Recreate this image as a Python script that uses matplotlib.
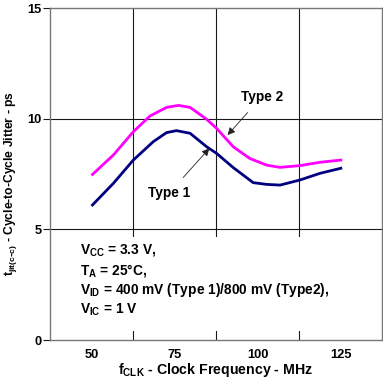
import matplotlib
matplotlib.use("Agg")
import matplotlib.pyplot as plt
from matplotlib.patches import Rectangle

plt.rcParams['font.family'] = ['Liberation Sans', 'DejaVu Sans']
plt.rcParams['font.weight'] = 'bold'
plt.rcParams['mathtext.default'] = 'regular'

# Data
freq_mhz = [50.3, 56.6, 62.6, 67.6, 72.6, 76.2, 79.7, 84.7, 87.7, 92.7, 97.7, 102.8, 106.8, 112.8, 118.8, 125.1]
type2_ps = [7.48, 8.36, 9.41, 10.12, 10.51, 10.60, 10.51, 9.97, 9.56, 8.73, 8.20, 7.90, 7.80, 7.88, 8.03, 8.13]
freq1_mhz = [50.3, 56.6, 62.6, 68.6, 72.6, 75.6, 79.7, 84.7, 87.7, 92.7, 98.7, 102.8, 106.8, 112.8, 118.8, 125.1]
type1_ps = [6.10, 7.08, 8.13, 8.96, 9.37, 9.46, 9.34, 8.73, 8.43, 7.79, 7.11, 7.03, 7.00, 7.23, 7.53, 7.76]

x_tick_vals = [50, 75, 100, 125]
x_tick_labels = ['50', '75', '100', '125']
x_grid_vals = [62.5, 87.5, 112.5]
y_tick_vals = [0, 5, 10, 15]

cond_lines = [r'V$_{CC}$ = 3.3 V,',
              r'T$_{A}$ = 25°C,',
              r'V$_{ID}$ = 400 mV (Type 1)/800 mV (Type2),',
              r'V$_{IC}$ = 1 V']

fig = plt.figure(figsize=(3.83, 3.87), dpi=100)
ax = fig.add_axes([0.1305, 0.1214, 0.8669, 0.8579])

ax.set_xlim(37.5, 137.5)
ax.set_ylim(0, 15)

# grid
for gx in x_grid_vals:
    ax.axvline(gx, color='#1a1a1a', lw=0.8, zorder=0.5)
for gy in [5, 10]:
    ax.axhline(gy, color='#1a1a1a', lw=0.8, zorder=0.5)

# white box behind conditions text
ax.add_patch(Rectangle((37.5, 0.4), 100, 4.25, facecolor='white', edgecolor='none', zorder=1))

ax.plot(freq_mhz, type2_ps, color='#FF00FF', lw=2.0, zorder=3)
ax.plot(freq1_mhz, type1_ps, color='#000080', lw=2.0, zorder=3)

ax.annotate('Type 2', xy=(91.0, 9.26), xytext=(101.3, 11.0), ha='center', va='center',
            fontsize=9.8, fontweight='bold', zorder=4,
            arrowprops=dict(arrowstyle='-|>', lw=0.6, color='#222222', mutation_scale=11,
                            shrinkA=6, shrinkB=0))
ax.annotate('Type 1', xy=(85.5, 8.66), xytext=(73.3, 6.62), ha='center', va='center',
            fontsize=9.8, fontweight='bold', zorder=4,
            arrowprops=dict(arrowstyle='-|>', lw=0.6, color='#222222', mutation_scale=11,
                            shrinkA=6, shrinkB=0))

cond_y = [4.07, 3.16, 2.26, 1.36]
for yv, s in zip(cond_y, cond_lines):
    ax.text(46.6, yv, s, ha='left', va='center', fontsize=9.9, fontweight='bold', zorder=4)

ax.set_xticks(x_tick_vals)
ax.set_xticklabels(x_tick_labels)
ax.set_yticks(y_tick_vals)
ax.tick_params(axis='x', length=0, pad=6.5, labelsize=9.3)
ax.tick_params(axis='y', length=5, width=0.8, pad=1, labelsize=9.3, color='#1a1a1a')
for lab in ax.get_xticklabels() + ax.get_yticklabels():
    lab.set_fontweight('bold')

for sp in ax.spines.values():
    sp.set_color('#777777')
    sp.set_linewidth(1.0)

ax.set_xlabel(r'f$_{CLK}$ - Clock Frequency - MHz', fontsize=10.2, fontweight='bold', labelpad=0)
ax.set_ylabel(r't$_{jit(c\text{-}c)}$ - Cycle-to-Cycle Jitter - ps', fontsize=8.7,
              fontweight='bold')
ax.yaxis.set_label_coords(-0.092, 0.471)

fig.savefig('out.png', dpi=100)
